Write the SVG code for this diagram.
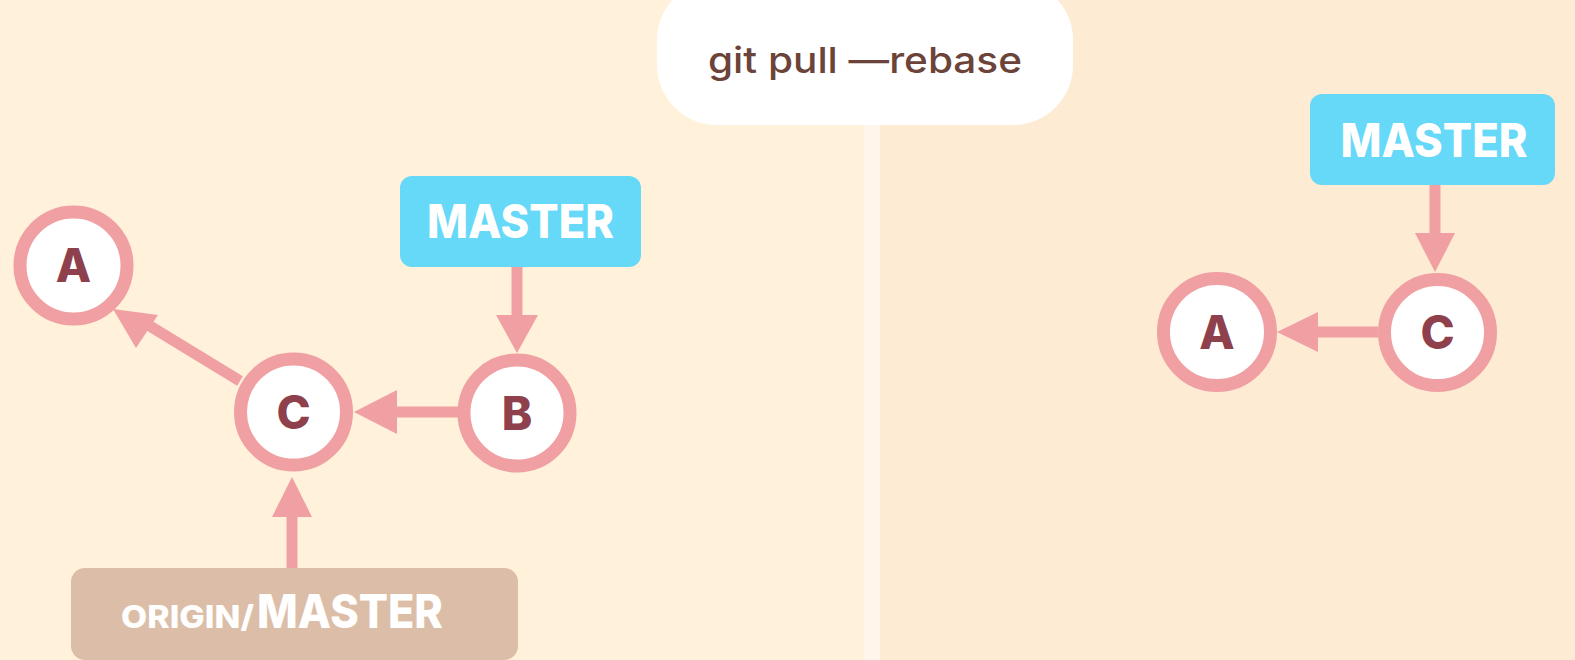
<svg xmlns="http://www.w3.org/2000/svg" width="1575" height="660" viewBox="0 0 1575 660">
<defs>
<style>
.commit circle{fill:#FFFFFF;stroke:#F0A0A2;stroke-width:13}
.commit text{font-family:Inter,"Open Sans","DejaVu Sans",sans-serif;font-weight:800;font-size:46px;fill:#8E404C;text-anchor:middle}
.branch rect{fill:#66D8F8}
.origin rect{fill:#DCBEA8}
.lbl{font-family:Inter,"Open Sans","DejaVu Sans",sans-serif;font-weight:800;fill:#FFFFFF}
.edge line{stroke:#F0A0A2;stroke-width:11}
.edge polygon{fill:#F0A0A2}
.title{font-family:Inter,"Open Sans","DejaVu Sans",sans-serif;font-weight:500;font-size:36px;fill:#6B4338;text-anchor:middle}
</style>
</defs>
<rect x="0" y="0" width="864" height="660" fill="#FFF1DA"/>
<rect x="864" y="0" width="16" height="660" fill="#FFF5EA"/>
<rect x="880" y="0" width="695" height="660" fill="#FEEBD4"/>

<g id="title">
<rect x="657" y="-20" width="416" height="145" rx="60" fill="#FFFFFF"/>
<text class="title" x="865" y="73" textLength="314" lengthAdjust="spacingAndGlyphs">git pull —rebase</text>
</g>

<g id="connectors" class="edge">
<line x1="240" y1="381" x2="140" y2="320"/>
<polygon points="113,309 158,315 136,348"/>
<line x1="459" y1="412" x2="395" y2="412"/>
<polygon points="354,412 397,390 397,434"/>
<line x1="517" y1="267" x2="517" y2="317"/>
<polygon points="517,353 496,315 538,315"/>
<line x1="292" y1="568" x2="292" y2="515"/>
<polygon points="292,477 272,517 312,517"/>
<line x1="1435" y1="185" x2="1435" y2="235"/>
<polygon points="1435,272 1415,233 1455,233"/>
<line x1="1378" y1="332" x2="1316" y2="332"/>
<polygon points="1277,332 1318,312 1318,352"/>
</g>

<g id="L-A" class="commit"><circle cx="73.5" cy="265.5" r="53.5"/><text x="73.5" y="282">A</text></g>
<g id="L-C" class="commit"><circle cx="293.5" cy="412" r="53"/><text x="293.5" y="428.5">C</text></g>
<g id="L-B" class="commit"><circle cx="517" cy="413" r="53"/><text x="517" y="429.5">B</text></g>

<g id="L-master" class="branch">
<rect x="400" y="176" width="241" height="91" rx="12"/>
<text class="lbl" x="520.5" y="238" font-size="47" text-anchor="middle" textLength="187" lengthAdjust="spacingAndGlyphs">MASTER</text>
</g>

<g id="L-origin" class="origin">
<rect x="71" y="568" width="447" height="92" rx="14"/>
<text class="lbl" x="121" y="628" font-size="31" textLength="133" lengthAdjust="spacingAndGlyphs">ORIGIN/</text>
<text class="lbl" x="257" y="628" font-size="47" textLength="186" lengthAdjust="spacingAndGlyphs">MASTER</text>
</g>

<g id="R-master" class="branch">
<rect x="1310" y="94" width="245" height="91" rx="12"/>
<text class="lbl" x="1434" y="157" font-size="47" text-anchor="middle" textLength="187" lengthAdjust="spacingAndGlyphs">MASTER</text>
</g>

<g id="R-A" class="commit"><circle cx="1217" cy="332" r="53.5"/><text x="1217" y="348.5">A</text></g>
<g id="R-C" class="commit"><circle cx="1437.5" cy="332.5" r="53"/><text x="1437.5" y="349">C</text></g>
</svg>
